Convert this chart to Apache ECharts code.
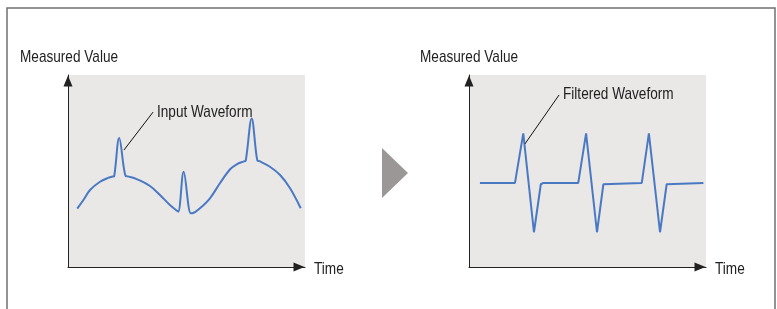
<!DOCTYPE html>
<html>
<head>
<meta charset="utf-8">
<script src="https://cdn.jsdelivr.net/npm/echarts@6/dist/echarts.min.js"></script>
<style>
  html, body { margin: 0; padding: 0; background: #fff; }
  #chart { width: 777px; height: 309px; }
</style>
</head>
<body>
<div id="chart"></div>
<script>
const inputTime = [3.9, 6.5, 9.3, 13.5, 16.9, 18.8, 19.5, 21.6, 24.3, 25.2, 29.0, 34.6, 38.8, 43.0, 45.7, 46.5,
  48.8, 51.8, 52.8, 55.7, 59.9, 64.1, 68.4, 71.2, 74.2, 75.0, 77.5, 79.9, 80.8, 85.2, 89.5, 93.7, 98.2];
const inputValue = [30.4, 34.9, 40.1, 44.4, 46.4, 47.1, 47.4, 67.2, 47.4, 47.2, 45.8, 42.2, 37.5, 32.3, 29.6, 28.8,
  49.6, 28.0, 28.1, 30.6, 35.8, 43.6, 50.9, 53.5, 55.0, 55.4, 77.4, 55.4, 55.1, 52.2, 47.9, 41.0, 30.6];

const filteredTime = [4.6, 19.4, 22.9, 27.4, 30.3, 31.4, 46.1, 49.4, 54.0, 56.7, 57.4,
  72.9, 75.9, 80.6, 83.4, 84.1, 98.9];
const filteredValue = [43.8, 43.8, 69.6, 18.1, 43.1, 43.8, 43.8, 69.6, 18.1, 43.1, 43.8,
  43.8, 69.6, 18.1, 43.1, 43.8, 43.8];

const axisTitles = ["Measured Value", "Time"];
const seriesNames = ["Input Waveform", "Filtered Waveform"];

const FONT = '"Liberation Sans", Arial, sans-serif';
const LINE = "#4a79c3";

const zip = (xs, ys) => xs.map((x, i) => [x, ys[i]]);

function axisPair(idx) {
  const line = {
    show: true,
    lineStyle: { color: "#222", width: 1 },
    symbol: ["none", "triangle"],
    symbolSize: [9, 11],
    symbolOffset: [0, -6],
  };
  return {
    x: {
      type: "value", gridIndex: idx, min: 0, max: 100,
      axisLine: line, axisTick: { show: false }, axisLabel: { show: false }, splitLine: { show: false },
    },
    y: {
      type: "value", gridIndex: idx, min: 0, max: 100,
      axisLine: line, axisTick: { show: false }, axisLabel: { show: false }, splitLine: { show: false },
    },
  };
}

const a0 = axisPair(0);
const a1 = axisPair(1);

// narrow face: regular sans squeezed horizontally
function text(x, y, s) {
  return {
    type: "text", x: x, y: y, scaleX: 0.8,
    style: { text: s, font: "17px " + FONT, fill: "#222", textVerticalAlign: "middle" },
  };
}

const chart = echarts.init(document.getElementById("chart"), null, { renderer: "canvas" });
chart.setOption({
  animation: false,
  grid: [
    { left: 68, top: 75, width: 237, height: 192, show: true, backgroundColor: "#eae8e7", borderWidth: 0 },
    { left: 469, top: 75, width: 237, height: 192, show: true, backgroundColor: "#eae8e7", borderWidth: 0 },
  ],
  xAxis: [a0.x, a1.x],
  yAxis: [a0.y, a1.y],
  graphic: [
    { type: "rect", shape: { x: 7, y: 8, width: 768, height: 330 }, style: { fill: "none", stroke: "#707070", lineWidth: 1.5 } },
    { type: "polygon", shape: { points: [[382, 148], [408, 173], [382, 198]] }, style: { fill: "#9b9796" } },
    text(20, 57, axisTitles[0]),
    text(420, 57, axisTitles[0]),
    text(314, 269, axisTitles[1]),
    text(715, 269, axisTitles[1]),
    text(157, 112, seriesNames[0]),
    text(563, 94, seriesNames[1]),
  ],
  series: [
    {
      name: seriesNames[0], type: "line", xAxisIndex: 0, yAxisIndex: 0,
      data: zip(inputTime, inputValue), showSymbol: false, smooth: 0.35,
      lineStyle: { color: LINE, width: 2 },
      markLine: {
        silent: true, symbol: "none", label: { show: false },
        lineStyle: { color: "#111", width: 1, type: "solid" },
        data: [[{ coord: [35.9, 80.7] }, { coord: [23.6, 60.9] }]],
      },
    },
    {
      name: seriesNames[1], type: "line", xAxisIndex: 1, yAxisIndex: 1,
      data: zip(filteredTime, filteredValue), showSymbol: false,
      lineStyle: { color: LINE, width: 2 },
      markLine: {
        silent: true, symbol: "none", label: { show: false },
        lineStyle: { color: "#111", width: 1, type: "solid" },
        data: [[{ coord: [38.0, 89.6] }, { coord: [23.6, 64.1] }]],
      },
    },
  ],
});
</script>
</body>
</html>
